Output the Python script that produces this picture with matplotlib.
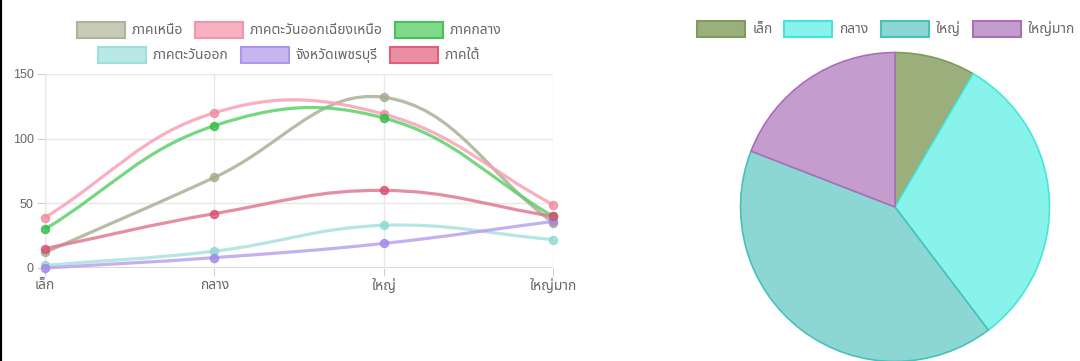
import numpy as np
import matplotlib
matplotlib.use("Agg")
import matplotlib.pyplot as plt
from matplotlib.path import Path
from matplotlib.patches import PathPatch, Rectangle
from matplotlib.lines import Line2D

plt.rcParams['font.family'] = ['Liberation Sans', 'Noto Sans Thai', 'DejaVu Sans']

sizes = ['เล็ก', 'กลาง', 'ใหญ่', 'ใหญ่มาก']
regions = ['ภาคเหนือ', 'ภาคตะวันออกเฉียงเหนือ', 'ภาคกลาง',
           'ภาคตะวันออก', 'จังหวัดเพชรบุรี', 'ภาคใต้']

north = [12, 70, 132, 35]
northeast = [39, 120, 119, 49]
central = [30, 110, 116, 40]
east = [2, 13, 33, 22]
phetchaburi = [0, 8, 19, 36]
south = [15, 42, 60, 40]
series = [north, northeast, central, east, phetchaburi, south]

pie_values = [98, 363, 479, 222]

line_colors = ['#a9b196', '#f7a1b5', '#5fcf6c', '#a9e2de', '#b9a2ee', '#e07a92']
point_colors = ['#a3ab8e', '#f28aa2', '#2fbf45', '#8fd8d2', '#a386ea', '#dc4f6e']
box_fill = ['#c6cbb8', '#f7b1c1', '#80d98b', '#b8e9e6', '#c6b7f0', '#ea8fa3']
box_edge = ['#acb499', '#f495ab', '#45c455', '#9fdeda', '#ad97ec', '#e0607c']

pie_fill = ['#9baf7d', '#87f3eb', '#8cd6d4', '#c49ccd']
pie_edge = ['#7f9a5c', '#45e6da', '#49c1bb', '#a970b8']

text_color = '#666666'
thai_fs = 10
W, H = 1080, 361

fig = plt.figure(figsize=(W / 100, H / 100), dpi=100)


def fx(px):
    return px / W


def fy(py):
    return 1 - py / H


def spline_path(ax, xs, ys, t=0.4):
    # chart.js style cubic spline, control points in pixel space
    pts = ax.transData.transform(np.column_stack([xs, ys]))
    n = len(pts)
    cps = []
    for i in range(n):
        prev = pts[max(i - 1, 0)]
        cur = pts[i]
        nxt = pts[min(i + 1, n - 1)]
        d01 = np.hypot(*(cur - prev))
        d12 = np.hypot(*(nxt - cur))
        tot = d01 + d12
        s01 = d01 / tot if tot else 0
        s12 = d12 / tot if tot else 0
        cps.append((cur - t * s01 * (nxt - prev), cur + t * s12 * (nxt - prev)))
    verts = [pts[0]]
    codes = [Path.MOVETO]
    for i in range(n - 1):
        verts += [cps[i][1], cps[i + 1][0], pts[i + 1]]
        codes += [Path.CURVE4] * 3
    verts = ax.transData.inverted().transform(np.array(verts))
    return Path(verts, codes)


def legend_row(labels, fills, edges, cx, cy, fs=thai_fs, bw=48, bh=15, gap=7, pad=12):
    texts = [fig.text(0, 0, s, fontsize=fs, color=text_color, va='center') for s in labels]
    r = fig.canvas.get_renderer()
    widths = [t.get_window_extent(r).width for t in texts]
    total = sum(bw + gap + w for w in widths) + pad * (len(labels) - 1)
    x = cx - total / 2
    for t, w, fc, ec in zip(texts, widths, fills, edges):
        fig.patches.append(Rectangle((fx(x), fy(cy + bh / 2)), fx(bw), bh / H,
                                     transform=fig.transFigure, facecolor=fc,
                                     edgecolor=ec, lw=1.5))
        t.set_position((fx(x + bw + gap), fy(cy)))
        x += bw + gap + w + pad


# line chart
ax = fig.add_axes([fx(45), fy(268), fx(553 - 45), (268 - 74) / H])
ax.set_xlim(0, 3)
ax.set_ylim(0, 150)
xs = np.arange(len(sizes))
for vals, lc, pc in zip(series, line_colors, point_colors):
    ax.add_patch(PathPatch(spline_path(ax, xs, vals), fill=False, edgecolor=lc,
                           lw=2.3, alpha=0.85, clip_on=False))
    ax.plot(xs, vals, 'o', color=pc, ms=5.8, alpha=0.8, mec=pc, clip_on=False)

ax.set_xticks(xs)
ax.set_xticklabels(sizes, fontsize=thai_fs)
ax.set_yticks([0, 50, 100, 150])
ax.grid(True, color='#e8e8e8', lw=1)
ax.set_axisbelow(True)
for s in ax.spines.values():
    s.set_visible(False)
ax.axhline(0, color='#cfcfcf', lw=1.2, zorder=0)
ax.axvline(0, color='#e0e0e0', lw=1, zorder=0)
ax.tick_params(axis='both', colors='#d0d0d0', labelcolor=text_color, length=6)
ax.tick_params(axis='y', pad=2, labelsize=9)
ax.tick_params(axis='x', pad=1)

legend_row(regions[:3], box_fill[:3], box_edge[:3], 289, 30)
legend_row(regions[3:], box_fill[3:], box_edge[3:], 289, 55)

# pie chart
cx, cy, r = 895, 207, 156
pax = fig.add_axes([fx(cx - r), fy(cy + r), fx(2 * r), 2 * r / H])
wedges, _ = pax.pie(pie_values, colors=pie_fill, startangle=90, counterclock=False,
                    radius=1, wedgeprops=dict(lw=1.2))
for w, ec in zip(wedges, pie_edge):
    w.set_edgecolor(ec)
pax.set_xlim(-1.01, 1.01)
pax.set_ylim(-1.01, 1.01)
pax.set_aspect('equal')
pax.axis('off')

legend_row(sizes, pie_fill, pie_edge, 886, 29)

# left border of the screenshot
fig.lines.append(Line2D([fx(1), fx(1)], [0, 1], transform=fig.transFigure,
                        color='black', lw=1.6))

fig.savefig('out.png', dpi=100)
